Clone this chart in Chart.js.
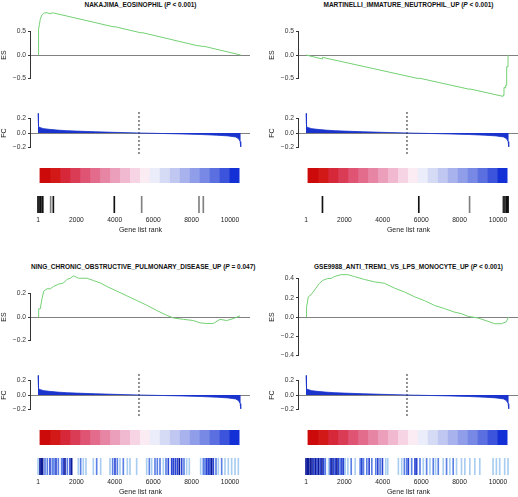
<!DOCTYPE html>
<html>
<head>
<meta charset="utf-8">
<script src="https://cdn.jsdelivr.net/npm/chart.js@4/dist/chart.umd.min.js"></script>
<style>
  body { margin: 0; background: #fff; }
  #wrap { position: relative; width: 518px; height: 497px; overflow: hidden; font-family: "Liberation Sans", Arial, sans-serif; }
  #wrap canvas { position: absolute; }
  .ttl { position: absolute; font-weight: bold; font-size: 6.5px; line-height: 8px; color: #111; text-align: center; white-space: nowrap; }
</style>
</head>
<body>
<div id="wrap"></div>
<script>
// ---- data ----
const setNames = ['NAKAJIMA_EOSINOPHIL', 'MARTINELLI_IMMATURE_NEUTROPHIL_UP',
  'NING_CHRONIC_OBSTRUCTIVE_PULMONARY_DISEASE_UP', 'GSE9988_ANTI_TREM1_VS_LPS_MONOCYTE_UP'];
const setPvals = ['< 0.001', '< 0.001', '= 0.047', '< 0.001'];

const rankTicks = [1, 2000, 4000, 6000, 8000, 10000];
const cutRank = 5260;          // where FC crosses zero (dashed line)

// ranked fold change (same list for all four sets)
const fcRank  = [1, 15, 40, 100, 300, 600, 1000, 1500, 2000, 3000, 4000, 5260, 6500, 7500, 8500, 9300, 9900, 10300, 10450, 10530, 10560];
const fcValue = [0.27, 0.15, 0.09, 0.075, 0.06, 0.05, 0.04, 0.032, 0.026, 0.017, 0.009, 0, -0.007, -0.013, -0.021, -0.03, -0.04, -0.055, -0.08, -0.12, -0.19];

// colour key under the FC plot, red -> white -> blue
const keyColors = ['#cd0a0a', '#d31818', '#d7283a', '#db3c55', '#df5373', '#e36c8c', '#e785a5', '#eb9fbb', '#f0b9cf', '#f6d4e3',
  '#fbecf3', '#ecedfa', '#d6dbf5', '#c0c8f1', '#a8b3ed', '#909ee9', '#7788e5', '#5b6fe1', '#3c53dc', '#1230d6'];
const keyStart = 100, keyEnd = 10470;

// running enrichment score
const es1Rank  = [1, 30, 70, 120, 200, 300, 470, 640, 660, 800, 3975, 3980, 5400, 5405, 8385, 8390, 8610, 8615, 10560];
const es1Value = [0, 0.55, 0.64, 0.76, 0.85, 0.89, 0.90, 0.875, 0.89, 0.895, 0.595, 0.605, 0.468, 0.478, 0.19, 0.20, 0.178, 0.188, 0];
const es2Rank  = [1, 850, 858, 5870, 5875, 8515, 8520, 10260, 10265, 10310, 10315, 10398, 10403, 10448, 10453, 10520, 10525, 10560];
const es2Value = [0, -0.085, -0.05, -0.503, -0.49, -0.73, -0.72, -0.88, -0.85, -0.855, -0.69, -0.70, -0.64, -0.645, -0.25, -0.255, 0, 0];
const es3Rank  = [1, 35, 120, 200, 300, 470, 640, 815, 1075, 1335, 1510, 1680, 1855, 2115, 2550, 2895, 3240, 3590, 4110, 4630, 5150, 5670, 6190, 6710, 7050, 7575, 8095, 8440, 8790, 9135, 9480, 9825, 10170, 10520];
const es3Value = [0, 0.07, 0.07, 0.15, 0.22, 0.24, 0.24, 0.26, 0.28, 0.29, 0.32, 0.33, 0.35, 0.33, 0.33, 0.31, 0.29, 0.26, 0.22, 0.18, 0.14, 0.10, 0.055, 0.014, -0.008, -0.02, -0.03, -0.05, -0.055, -0.055, -0.02, -0.03, -0.014, 0.01];
const es4Rank  = [1, 30, 120, 260, 520, 700, 870, 1130, 1300, 1480, 1830, 2170, 2520, 3040, 3565, 4090, 4610, 5130, 5650, 6170, 6700, 7220, 7740, 8090, 8430, 8960, 9480, 9830, 10170, 10430, 10550];
const es4Value = [0, 0.10, 0.21, 0.23, 0.30, 0.35, 0.38, 0.40, 0.40, 0.42, 0.44, 0.44, 0.42, 0.39, 0.365, 0.35, 0.30, 0.26, 0.21, 0.17, 0.12, 0.087, 0.05, 0.035, 0.007, -0.01, -0.045, -0.07, -0.07, -0.05, 0];

const es1Ticks = [-0.5, 0, 0.5];
const es2Ticks = [-0.5, 0, 0.5];
const es3Ticks = [-0.2, 0, 0.2];
const es4Ticks = [-0.4, -0.2, 0, 0.2, 0.4];
const fcTicks = [-0.2, -0.1, 0, 0.1, 0.2];

// gene set members: rank and shade (1 light .. 4 dark)
const hits1Rank  = [1, 35, 75, 120, 165, 205, 250, 660, 800, 3975, 5400, 8385, 8610];
const hits1Level = [4, 4, 3, 4, 4, 3, 4, 2, 4, 4, 2, 2, 2];
const hits2Rank  = [858, 5875, 8520, 10265, 10315, 10403, 10453, 10480, 10525];
const hits2Level = [4, 4, 2, 2, 4, 3, 4, 4, 4];
const hits3Rank  = [1, 104, 174, 243, 365, 486, 625, 747, 833, 937, 1059, 1233, 1320, 1406, 1528, 1667, 1753, 2100, 2222, 2361, 2500, 2882, 3056, 3264, 3750, 3889, 4010, 4132, 4271, 4444, 4653, 4792, 5139, 5660, 5799, 5920, 6094, 6215, 6354, 6528, 6667, 6788, 6962, 7049, 7153, 7257, 7361, 7483, 7604, 7743, 7882, 8472, 8611, 8698, 8785, 8872, 8958, 9045, 9132, 9271, 9392, 9566, 9740, 9913, 10087, 10261, 10434];
const hits3Level = [1, 4, 4, 4, 2, 2, 3, 2, 2, 3, 2, 2, 3, 4, 2, 3, 4, 1, 2, 1, 1, 1, 2, 1, 1, 2, 3, 2, 1, 2, 1, 1, 1, 1, 2, 1, 2, 2, 2, 1, 2, 3, 3, 3, 3, 3, 4, 3, 2, 1, 1, 1, 2, 2, 3, 3, 3, 4, 3, 2, 1, 2, 1, 1, 1, 1, 1];
const hits4Rank  = [1, 71, 140, 227, 313, 400, 486, 573, 659, 746, 832, 919, 1005, 1178, 1265, 1351, 1438, 1524, 1611, 1697, 1784, 1870, 1957, 2043, 2182, 2355, 2562, 2822, 2908, 2995, 3168, 3289, 3428, 3635, 3739, 3860, 3981, 4154, 4258, 4812, 4985, 5124, 5245, 5331, 5504, 5677, 5764, 5937, 6110, 6283, 6456, 6629, 6750, 6889, 7148, 7321, 7494, 7667, 7840, 8100, 8273, 8532, 8792, 9051, 9743, 9916, 10089, 10348, 10521];
const hits4Level = [4, 4, 4, 4, 4, 3, 4, 3, 4, 3, 4, 3, 2, 1, 3, 4, 3, 3, 4, 3, 2, 3, 3, 1, 1, 2, 1, 2, 3, 2, 2, 3, 2, 2, 3, 2, 3, 1, 1, 1, 1, 2, 2, 3, 2, 3, 3, 2, 1, 2, 1, 2, 1, 2, 1, 2, 1, 2, 1, 1, 1, 1, 1, 1, 1, 1, 1, 1, 1];

const grayShades = ['', '#b0b0b0', '#808080', '#444444', '#111111'];
const blueShades = ['', '#a9cdf0', '#5a80e6', '#2a45d2', '#0f1c9a'];

// ---- layout ----
const FONT = '"Liberation Sans", Arial, sans-serif';
const W = 250, AXW = 31;
const XMIN = -364, XMAX = 11042;
const panels = [
  { ox: 0,   oy: 0,   es: [es1Rank, es1Value], ticks: es1Ticks, r: 0.936, hits: [hits1Rank, hits1Level], shades: grayShades },
  { ox: 268, oy: 0,   es: [es2Rank, es2Value], ticks: es2Ticks, r: 0.936, hits: [hits2Rank, hits2Level], shades: grayShades },
  { ox: 0,   oy: 262, es: [es3Rank, es3Value], ticks: es3Ticks, r: 0.3745, hits: [hits3Rank, hits3Level], shades: blueShades },
  { ox: 268, oy: 262, es: [es4Rank, es4Value], ticks: es4Ticks, r: 0.457, hits: [hits4Rank, hits4Level], shades: blueShades }
];

const wrap = document.getElementById('wrap');
Chart.defaults.font.family = FONT;

// R-style axis line: only between the first and the last tick
const rAxis = {
  id: 'rAxis',
  afterDraw(chart) {
    const s = chart.scales.y;
    if (!s || !s.options.display) return;
    const t = s.ticks, ctx = chart.ctx;
    const x = Math.round(s.right) - 0.5;
    ctx.save();
    ctx.strokeStyle = '#333';
    ctx.lineWidth = 1;
    ctx.beginPath();
    ctx.moveTo(x, s.getPixelForValue(t[0].value));
    ctx.lineTo(x, s.getPixelForValue(t[t.length - 1].value));
    ctx.stroke();
    ctx.restore();
  }
};

const fmt = v => Math.abs(v) < 1e-9 ? '0.0' : v.toFixed(1).replace('-', '\u2212');
const pts = (xs, ys) => xs.map((x, i) => ({ x, y: ys[i] }));

function canvasAt(ox, oy, top, h) {
  const c = document.createElement('canvas');
  c.width = W; c.height = h;
  c.style.left = ox + 'px';
  c.style.top = (oy + top) + 'px';
  c.style.width = W + 'px'; c.style.height = h + 'px';
  wrap.appendChild(c);
  return c;
}

const base = {
  responsive: false, animation: false, events: [],
  plugins: { legend: { display: false }, tooltip: { enabled: false } }
};
const xHidden = () => ({ type: 'linear', min: XMIN, max: XMAX, display: false });

function yAxis(ticks, r, label, everyOther) {
  return {
    type: 'linear', min: -r, max: r,
    afterBuildTicks: s => { s.ticks = ticks.map(v => ({ value: v })); },
    afterFit: s => { s.width = AXW; s.paddingTop = 0; s.paddingBottom = 0; },
    border: { display: false },
    grid: {
      drawTicks: true, tickLength: 3, tickColor: '#333', lineWidth: 1,
      color: c => (c.tick && Math.abs(c.tick.value) < 1e-9) ? '#808080' : 'rgba(0,0,0,0)'
    },
    ticks: {
      font: { size: 6.7 }, color: '#333', padding: 2,
      callback: v => (everyOther && Math.round(Math.abs(v) * 10) % 2 === 1) ? '' : fmt(v)
    },
    title: { display: true, text: label, font: { size: 7 }, color: '#222', padding: { top: 0, bottom: 0 } }
  };
}

panels.forEach((p, i) => {
  // title
  const t = document.createElement('div');
  t.className = 'ttl';
  t.style.left = (p.ox + AXW) + 'px';
  t.style.width = (W - AXW) + 'px';
  t.style.top = (p.oy + 1) + 'px';
  t.append(setNames[i] + ' (');
  const it = document.createElement('i'); it.textContent = 'P';
  t.append(it, ' ' + setPvals[i] + ')');
  wrap.appendChild(t);

  // running enrichment score
  new Chart(canvasAt(p.ox, p.oy, 11, 88), {
    type: 'line',
    data: { datasets: [{ data: pts(p.es[0], p.es[1]), borderColor: '#74d174', borderWidth: 1, pointRadius: 0, tension: 0 }] },
    options: { ...base, scales: { x: xHidden(), y: yAxis(p.ticks, p.r, 'ES', false) } },
    plugins: [rAxis]
  });

  // ranked fold change
  new Chart(canvasAt(p.ox, p.oy, 109, 48), {
    type: 'line',
    data: { datasets: [
      { data: pts(fcRank, fcValue), borderColor: '#1a33cc', backgroundColor: '#1a33cc', borderWidth: 0.8, pointRadius: 0, fill: 'origin', tension: 0 },
      { data: [{ x: cutRank, y: 0.29 }, { x: cutRank, y: -0.30 }], borderColor: '#222', borderWidth: 1, borderDash: [2, 2], pointRadius: 0 }
    ] },
    options: { ...base, scales: { x: xHidden(), y: yAxis(fcTicks, 0.331, 'FC', true) } },
    plugins: [rAxis]
  });

  // colour key
  const step = (keyEnd - keyStart) / keyColors.length;
  new Chart(canvasAt(p.ox, p.oy, 168, 15), {
    type: 'bar',
    data: {
      labels: ['key'],
      datasets: keyColors.map((c, k) => ({
        data: [[keyStart + k * step, keyStart + (k + 1) * step + 8]],
        backgroundColor: c, borderWidth: 0, barPercentage: 1, categoryPercentage: 1, grouped: false
      }))
    },
    options: { ...base, indexAxis: 'y', layout: { padding: { left: AXW } },
      scales: { x: xHidden(), y: { display: false } } }
  });

  // gene set members (thin floating bars spanning the strip) + rank axis
  const shade = p.hits[1].map(l => p.shades[l]);
  new Chart(canvasAt(p.ox, p.oy, 196, 39), {
    type: 'bar',
    data: { datasets: [{
      data: p.hits[0].map(r => ({ x: r, y: [0, 1] })),
      backgroundColor: shade, borderWidth: 0, barThickness: 1, grouped: false
    }] },
    options: { ...base, layout: { padding: { left: AXW } },
      scales: {
        y: { display: false, min: 0, max: 1 },
        x: {
          type: 'linear', min: XMIN, max: XMAX, offset: false,
          afterBuildTicks: s => { s.ticks = rankTicks.map(v => ({ value: v })); },
          afterFit: s => { s.height = 22; s.paddingLeft = 0; s.paddingRight = 0; },
          border: { display: false }, grid: { display: false, drawTicks: false, tickLength: 0 },
          ticks: { font: { size: 6.7 }, color: '#222', padding: 3, maxRotation: 0, autoSkip: false, callback: v => String(v) },
          title: { display: true, text: 'Gene list rank', font: { size: 7 }, color: '#222', padding: { top: 0, bottom: 1 } }
        }
      } }
  });
});
</script>
</body>
</html>
